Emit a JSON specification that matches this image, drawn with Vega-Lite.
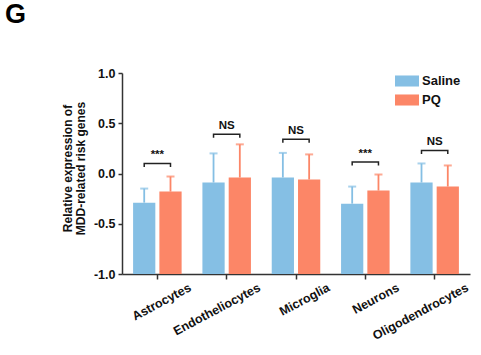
{
  "$schema": "https://vega.github.io/schema/vega-lite/v6.json",
  "width": 348,
  "height": 201,
  "autosize": "none",
  "padding": {"left": 122, "top": 73, "right": 11, "bottom": 81},
  "title": {"text": "G", "anchor": "start", "frame": "group", "dx": -117, "offset": 38, "fontSize": 27, "fontWeight": "bold", "font": "Liberation Sans", "color": "#000000"},
  "datasets": {
    "bars": [
      {"cell": "Astrocytes", "group": "Saline", "mean": -0.29, "upper": -0.15},
      {"cell": "Astrocytes", "group": "PQ", "mean": -0.18, "upper": -0.03},
      {"cell": "Endotheliocytes", "group": "Saline", "mean": -0.09, "upper": 0.2},
      {"cell": "Endotheliocytes", "group": "PQ", "mean": -0.04, "upper": 0.29},
      {"cell": "Microglia", "group": "Saline", "mean": -0.04, "upper": 0.205},
      {"cell": "Microglia", "group": "PQ", "mean": -0.06, "upper": 0.19},
      {"cell": "Neurons", "group": "Saline", "mean": -0.3, "upper": -0.13},
      {"cell": "Neurons", "group": "PQ", "mean": -0.17, "upper": -0.01},
      {"cell": "Oligodendrocytes", "group": "Saline", "mean": -0.09, "upper": 0.1},
      {"cell": "Oligodendrocytes", "group": "PQ", "mean": -0.13, "upper": 0.08}
    ],
    "brackets": [
      {"cell": "Astrocytes", "group": "Saline", "y": 0.065, "step": 1},
      {"cell": "Astrocytes", "group": "Saline", "y": 0.1, "step": 2},
      {"cell": "Astrocytes", "group": "PQ", "y": 0.1, "step": 3},
      {"cell": "Astrocytes", "group": "PQ", "y": 0.065, "step": 4},
      {"cell": "Endotheliocytes", "group": "Saline", "y": 0.355, "step": 1},
      {"cell": "Endotheliocytes", "group": "Saline", "y": 0.39, "step": 2},
      {"cell": "Endotheliocytes", "group": "PQ", "y": 0.39, "step": 3},
      {"cell": "Endotheliocytes", "group": "PQ", "y": 0.355, "step": 4},
      {"cell": "Microglia", "group": "Saline", "y": 0.305, "step": 1},
      {"cell": "Microglia", "group": "Saline", "y": 0.34, "step": 2},
      {"cell": "Microglia", "group": "PQ", "y": 0.34, "step": 3},
      {"cell": "Microglia", "group": "PQ", "y": 0.305, "step": 4},
      {"cell": "Neurons", "group": "Saline", "y": 0.08, "step": 1},
      {"cell": "Neurons", "group": "Saline", "y": 0.115, "step": 2},
      {"cell": "Neurons", "group": "PQ", "y": 0.115, "step": 3},
      {"cell": "Neurons", "group": "PQ", "y": 0.08, "step": 4},
      {"cell": "Oligodendrocytes", "group": "Saline", "y": 0.195, "step": 1},
      {"cell": "Oligodendrocytes", "group": "Saline", "y": 0.23, "step": 2},
      {"cell": "Oligodendrocytes", "group": "PQ", "y": 0.23, "step": 3},
      {"cell": "Oligodendrocytes", "group": "PQ", "y": 0.195, "step": 4}
    ],
    "sig": [
      {"cell": "Astrocytes", "y": 0.1, "label": "***"},
      {"cell": "Endotheliocytes", "y": 0.39, "label": "NS"},
      {"cell": "Microglia", "y": 0.34, "label": "NS"},
      {"cell": "Neurons", "y": 0.115, "label": "***"},
      {"cell": "Oligodendrocytes", "y": 0.23, "label": "NS"}
    ]
  },
  "encoding": {
    "x": {
      "field": "cell", "type": "nominal",
      "sort": ["Astrocytes", "Endotheliocytes", "Microglia", "Neurons", "Oligodendrocytes"],
      "scale": {"paddingInner": 0.3, "paddingOuter": 0.16},
      "axis": {"title": null, "labelAngle": -28, "labelAlign": "right", "labelBaseline": "top", "labelOffset": 30, "labelPadding": 2, "labelOverlap": false, "labelBound": false, "labelFlush": false, "labelFontSize": 12.5, "labelFontWeight": "bold", "labelColor": "#111111", "tickSize": 5, "tickWidth": 1.5, "tickColor": "#333333", "domainColor": "#333333", "domainWidth": 1.5}
    }
  },
  "layer": [
    {
      "data": {"name": "bars"},
      "mark": {"type": "bar"},
      "encoding": {
        "xOffset": {"field": "group", "type": "nominal", "sort": ["Saline", "PQ"], "scale": {"paddingInner": 0.154, "paddingOuter": 0}},
        "y": {
          "field": "mean", "type": "quantitative",
          "scale": {"domain": [-1, 1], "zero": false, "nice": false},
          "axis": {"title": ["Relative expression of", "MDD-related risk genes"], "titleFontSize": 12, "titleFontWeight": "bold", "titleColor": "#111111", "titleLineHeight": 13, "titlePadding": 6, "titleY": 95, "values": [-1, -0.75, -0.5, -0.25, 0, 0.25, 0.5, 0.75, 1], "labelExpr": "(abs(datum.value*2 - round(datum.value*2)) < 0.01) ? replace(format(datum.value, '.1f'), '\u2212', '-') : ''", "labelFontSize": 12.5, "labelFontWeight": "bold", "labelColor": "#111111", "labelPadding": 3, "tickSize": 4, "tickWidth": 1.5, "tickColor": "#333333", "domainColor": "#333333", "domainWidth": 1.5, "grid": false}
        },
        "y2": {"datum": -1},
        "color": {
          "field": "group", "type": "nominal",
          "sort": ["Saline", "PQ"],
          "scale": {"domain": ["Saline", "PQ"], "range": ["#85BFE4", "#FC8667"]},
          "legend": {"title": null, "orient": "none", "legendX": 273, "legendY": -4, "padding": 0, "symbolType": "M-1,-0.46H1V0.46H-1Z", "symbolSize": 576, "symbolStrokeWidth": 0, "labelFontSize": 13, "labelFontWeight": "bold", "labelColor": "#111111", "labelOffset": 3, "rowPadding": -7}
        }
      }
    },
    {
      "data": {"name": "bars"},
      "mark": {"type": "rule", "strokeWidth": 1.8},
      "encoding": {
        "xOffset": {"field": "group", "type": "nominal", "sort": ["Saline", "PQ"]},
        "y": {"field": "mean", "type": "quantitative"},
        "y2": {"field": "upper"},
        "color": {"field": "group", "type": "nominal", "legend": null}
      }
    },
    {
      "data": {"name": "bars"},
      "mark": {"type": "tick", "size": 8, "thickness": 2},
      "encoding": {
        "xOffset": {"field": "group", "type": "nominal", "sort": ["Saline", "PQ"]},
        "y": {"field": "upper", "type": "quantitative"},
        "color": {"field": "group", "type": "nominal", "legend": null}
      }
    },
    {
      "data": {"name": "brackets"},
      "mark": {"type": "line", "color": "#222222", "strokeWidth": 1.5, "interpolate": "linear"},
      "encoding": {
        "xOffset": {"field": "group", "type": "nominal", "sort": ["Saline", "PQ"]},
        "y": {"field": "y", "type": "quantitative"},
        "detail": {"field": "cell"},
        "order": {"field": "step", "type": "quantitative"}
      }
    },
    {
      "data": {"name": "sig"},
      "mark": {"type": "text", "baseline": "bottom", "dy": -3, "fontSize": 11.5, "fontWeight": "bold", "color": "#111111"},
      "encoding": {
        "y": {"field": "y", "type": "quantitative"},
        "text": {"field": "label"}
      }
    }
  ],
  "config": {
    "font": "Liberation Sans",
    "view": {"stroke": null},
    "background": "white"
  }
}
